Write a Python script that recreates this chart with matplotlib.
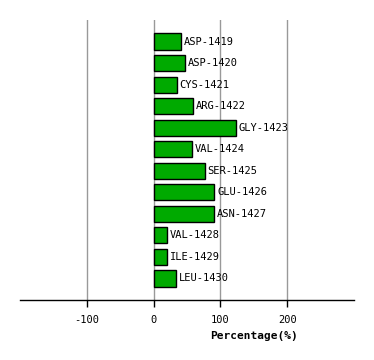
import matplotlib
matplotlib.use("Agg")
import matplotlib.pyplot as plt

residues = ["ASP-1419", "ASP-1420", "CYS-1421", "ARG-1422", "GLY-1423", "VAL-1424",
            "SER-1425", "GLU-1426", "ASN-1427", "VAL-1428", "ILE-1429", "LEU-1430"]
values = [41, 47, 35, 59, 123, 57, 77, 91, 91, 20, 20, 34]
xticks = [-100, 0, 100, 200]

fig = plt.figure(figsize=(3.74, 3.6), dpi=100)
ax = fig.add_axes([20 / 374, 60 / 360, 334 / 374, 280 / 360])

ypos = list(range(len(residues)))
ax.barh(ypos, values, height=0.75, color="#00aa00", edgecolor="black", linewidth=1, zorder=3)
for y, v, name in zip(ypos, values, residues):
    ax.text(v + 4, y, name, va="center", ha="left", fontsize=7.5,
            family="DejaVu Sans Mono", zorder=4)

ax.set_xlim(-200, 300)
ax.set_ylim(12, -1)
ax.set_xticks(xticks)
ax.set_xticklabels([str(t) for t in xticks], family="DejaVu Sans Mono", fontsize=7.5)
ax.set_yticks([])
for t in xticks:
    ax.axvline(t, color="#999999", linewidth=1, zorder=1)

for s in ["left", "right", "top"]:
    ax.spines[s].set_visible(False)
ax.spines["bottom"].set_linewidth(1)
ax.tick_params(axis="x", length=5, width=1, pad=6)

ax.set_xlabel("Percentage(%)", family="DejaVu Sans Mono", fontsize=8, fontweight="bold")
ax.xaxis.set_label_coords(0.70, -0.11)

fig.savefig("out.png", dpi=100)
